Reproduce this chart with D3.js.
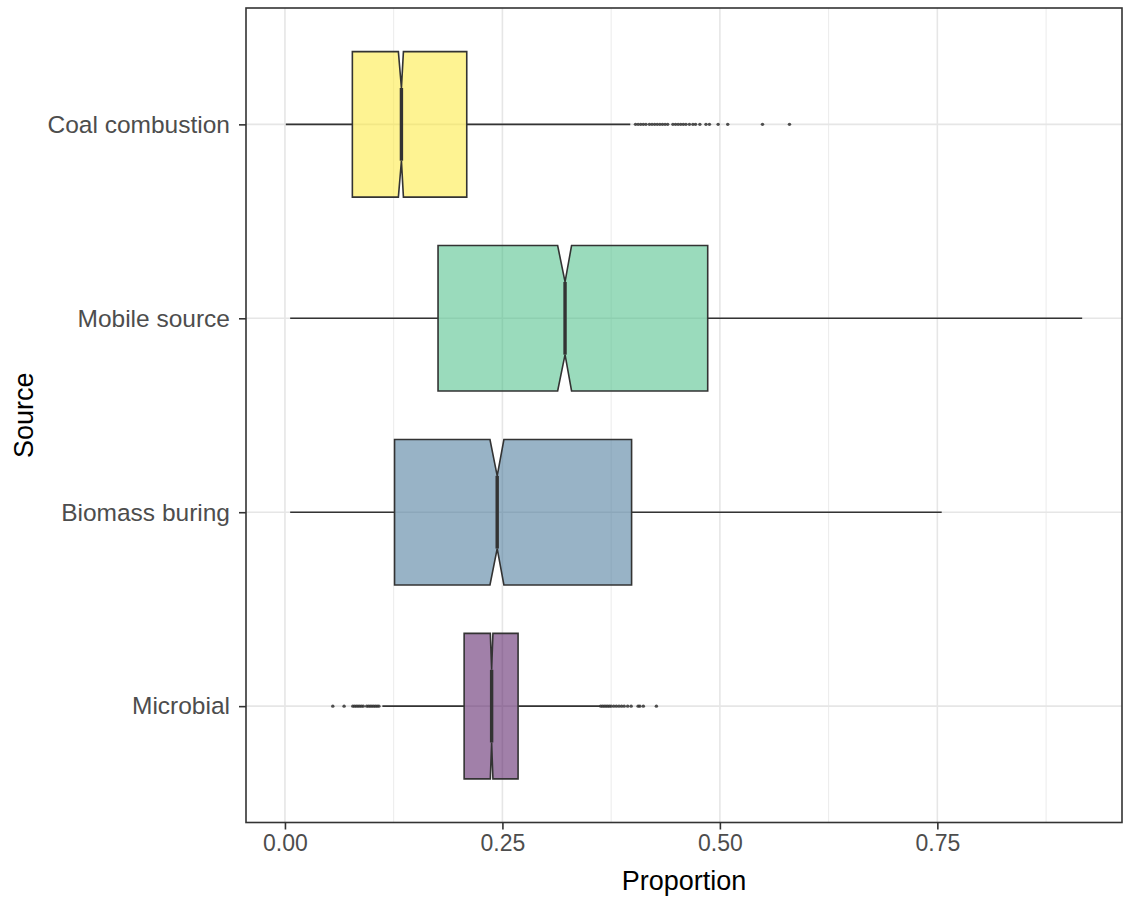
<!DOCTYPE html>
<html>
<head>
<meta charset="utf-8">
<script src="https://cdn.jsdelivr.net/npm/d3@7"></script>
<style>
  body { margin: 0; background: #fff; }
  text { font-family: "Liberation Sans", Arial, sans-serif; }
</style>
</head>
<body>
<div id="chart"></div>
<script>
// categories, bottom to top
var sources = ["Microbial", "Biomass buring", "Mobile source", "Coal combustion"];
var fills = ["#440154", "#31688E", "#35B779", "#FDE725"];

// box statistics
var whiskerLow  = [0.112, 0.006, 0.006, 0.001];
var q1          = [0.206, 0.126, 0.176, 0.0775];
var notchLow    = [0.2361, 0.2357, 0.3135, 0.1304];
var medians     = [0.2376, 0.244, 0.322, 0.1339];
var notchHigh   = [0.2391, 0.2517, 0.3295, 0.1362];
var q3          = [0.268, 0.3985, 0.486, 0.209];
var whiskerHigh = [0.3624, 0.755, 0.9165, 0.397];

// outliers
var outMicrobial = [0.055, 0.068, 0.078, 0.080, 0.082, 0.084, 0.086, 0.088, 0.090, 0.094, 0.096, 0.098,
  0.100, 0.102, 0.104, 0.106, 0.108, 0.363, 0.365, 0.367, 0.369, 0.371, 0.373, 0.375, 0.378, 0.381,
  0.384, 0.387, 0.390, 0.394, 0.398, 0.406, 0.408, 0.412, 0.427];
var outBiomass = [];
var outMobile = [];
var outCoal = [0.403, 0.406, 0.409, 0.412, 0.415, 0.419, 0.422, 0.425, 0.428, 0.431, 0.434, 0.437,
  0.440, 0.446, 0.449, 0.452, 0.455, 0.458, 0.461, 0.465, 0.469, 0.472, 0.477, 0.484, 0.488, 0.498,
  0.509, 0.549, 0.580];
var outliers = [outMicrobial, outBiomass, outMobile, outCoal];

var xTicks = [0, 0.25, 0.5, 0.75];
var xMinor = [0.125, 0.375, 0.625, 0.875];

function init() {
  var w = 1123, h = 907;
  var left = 246, right = 1122, top = 8, bottom = 822.5;

  var svg = d3.select("#chart").append("svg")
      .attr("width", w)
      .attr("height", h);

  // x domain from the data with 5% expansion (like ggplot)
  var allVals = whiskerLow.concat(whiskerHigh, outMicrobial, outCoal);
  var lo = d3.min(allVals), hi = d3.max(allVals);
  var pad = (hi - lo) * 0.05;
  var x = d3.scaleLinear().domain([lo - pad, hi + pad]).range([left, right]);

  var y = d3.scalePoint().domain(sources).range([bottom, top]).padding(0.6);
  var half = y.step() * 0.375;

  var color = d3.scaleOrdinal().domain(sources).range(fills);

  // grid
  var grid = svg.append("g");
  grid.selectAll(".minor").data(xMinor).enter().append("line")
      .attr("x1", d => x(d)).attr("x2", d => x(d))
      .attr("y1", top).attr("y2", bottom)
      .attr("stroke", "#EBEBEB").attr("stroke-width", 1);
  grid.selectAll(".majorx").data(xTicks).enter().append("line")
      .attr("x1", d => x(d)).attr("x2", d => x(d))
      .attr("y1", top).attr("y2", bottom)
      .attr("stroke", "#E6E6E6").attr("stroke-width", 1.6);
  grid.selectAll(".majory").data(sources).enter().append("line")
      .attr("x1", left).attr("x2", right)
      .attr("y1", d => y(d)).attr("y2", d => y(d))
      .attr("stroke", "#E6E6E6").attr("stroke-width", 1.6);

  var rows = sources.map(function(s, i) {
    return { src: s, wl: whiskerLow[i], q1: q1[i], nl: notchLow[i], med: medians[i],
             nh: notchHigh[i], q3: q3[i], wh: whiskerHigh[i], out: outliers[i] };
  });

  var g = svg.selectAll(".box").data(rows).enter().append("g");

  // whiskers
  g.append("line")
      .attr("x1", d => x(d.wl)).attr("x2", d => x(d.q1))
      .attr("y1", d => y(d.src)).attr("y2", d => y(d.src))
      .attr("stroke", "#333333").attr("stroke-width", 1.6);
  g.append("line")
      .attr("x1", d => x(d.q3)).attr("x2", d => x(d.wh))
      .attr("y1", d => y(d.src)).attr("y2", d => y(d.src))
      .attr("stroke", "#333333").attr("stroke-width", 1.6);

  // notched box
  g.append("path")
      .attr("d", function(d) {
        var c = y(d.src);
        var pts = [
          [x(d.q1), c - half], [x(d.nl), c - half], [x(d.med), c - half / 2],
          [x(d.nh), c - half], [x(d.q3), c - half], [x(d.q3), c + half],
          [x(d.nh), c + half], [x(d.med), c + half / 2], [x(d.nl), c + half],
          [x(d.q1), c + half]
        ];
        return d3.line()(pts) + "Z";
      })
      .attr("fill", d => color(d.src))
      .attr("fill-opacity", 0.5)
      .attr("stroke", "#333333")
      .attr("stroke-width", 1.6);

  // median
  g.append("line")
      .attr("x1", d => x(d.med)).attr("x2", d => x(d.med))
      .attr("y1", d => y(d.src) - half / 2).attr("y2", d => y(d.src) + half / 2)
      .attr("stroke", "#333333").attr("stroke-width", 3.4);

  // outliers
  g.each(function(d) {
    d3.select(this).selectAll("circle").data(d.out).enter().append("circle")
        .attr("cx", v => x(v))
        .attr("cy", y(d.src))
        .attr("r", 1.7)
        .attr("fill", "#333333")
        .attr("fill-opacity", 0.85);
  });

  // panel border
  svg.append("rect")
      .attr("x", left).attr("y", top)
      .attr("width", right - left).attr("height", bottom - top)
      .attr("fill", "none").attr("stroke", "#333333").attr("stroke-width", 1.6);

  // axes
  var xAxis = svg.append("g")
      .attr("transform", "translate(0," + bottom + ")")
      .call(d3.axisBottom(x).tickValues(xTicks).tickFormat(d3.format(".2f")).tickSize(7).tickPadding(5));
  xAxis.select(".domain").remove();
  xAxis.selectAll(".tick line").attr("stroke", "#333333").attr("stroke-width", 1.6);
  xAxis.selectAll(".tick text").attr("fill", "#4D4D4D").style("font-size", "23px")
      .style("font-family", "'Liberation Sans', Arial, sans-serif");

  var yAxis = svg.append("g")
      .attr("transform", "translate(" + left + ",0)")
      .call(d3.axisLeft(y).tickSize(7).tickPadding(9));
  yAxis.select(".domain").remove();
  yAxis.selectAll(".tick line").attr("stroke", "#333333").attr("stroke-width", 1.6);
  yAxis.selectAll(".tick text").attr("fill", "#4D4D4D").style("font-size", "24.5px")
      .style("font-family", "'Liberation Sans', Arial, sans-serif");

  // titles
  svg.append("text")
      .attr("x", (left + right) / 2).attr("y", 890)
      .attr("text-anchor", "middle")
      .style("font-size", "27px")
      .text("Proportion");
  svg.append("text")
      .attr("transform", "translate(33," + ((top + bottom) / 2) + ") rotate(-90)")
      .attr("text-anchor", "middle")
      .style("font-size", "27px")
      .text("Source");
}

window.onload = init;
</script>
</body>
</html>
